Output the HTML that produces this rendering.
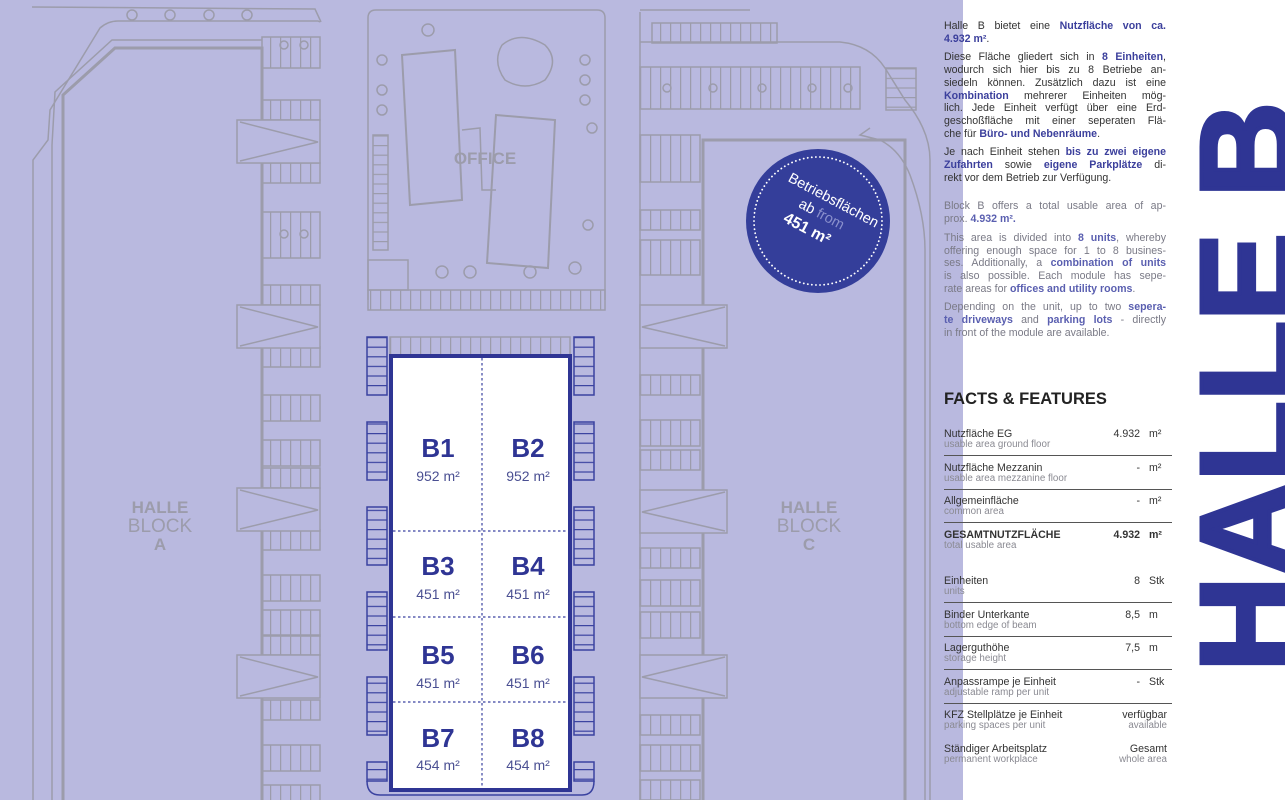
<!DOCTYPE html>
<html><head><meta charset="utf-8"><style>
*{margin:0;padding:0;box-sizing:border-box}
body{width:1285px;height:800px;overflow:hidden;background:#b9b9df;font-family:"Liberation Sans",sans-serif;position:relative}
#panel{position:absolute;left:963px;top:0;width:322px;height:800px;background:#fff}
.txt{position:absolute;left:944px;width:222px;font-size:10.6px;line-height:12.7px;color:#333}
.txt div{text-align:justify;text-align-last:justify;white-space:nowrap}
.txt div.l{text-align-last:left}
.en{color:#7a7a86}
b{color:#3b3f9c}
.en b{color:#5a5fb0}
.p{margin-bottom:6px}
#ff{position:absolute;left:944px;top:390px;font-size:16.5px;font-weight:bold;color:#222}
.row{position:absolute;left:944px;width:228px;height:34px;font-size:10.6px;color:#333}
.row .s{position:absolute;top:11px;left:0;color:#8a8a92;font-size:9.8px}
.row .v{position:absolute;right:32px;top:0}
.row .u{position:absolute;left:205px;top:0}
.row .r{position:absolute;right:5px;top:0;text-align:right}
.row .r2{position:absolute;right:5px;top:11px;color:#8a8a92;font-size:9.8px}
.line{position:absolute;left:944px;width:228px;height:1px;background:#555}
#hb{position:absolute;left:1182px;top:672px;transform-origin:0 0;transform:rotate(-90deg);font-size:133px;font-weight:bold;color:#2f3594;line-height:1;white-space:nowrap;letter-spacing:-1px;-webkit-text-stroke:4px #2f3594}
</style></head><body>
<svg width="963" height="800" style="position:absolute;left:0;top:0">
<defs>
<pattern id="vs" width="10" height="200" patternUnits="userSpaceOnUse"><line x1="0.5" y1="0" x2="0.5" y2="200" stroke="#9c9cab" stroke-width="1.5"/></pattern>
<pattern id="hs" width="200" height="9.6" patternUnits="userSpaceOnUse" y="337"><line x1="0" y1="0.5" x2="200" y2="0.5" stroke="#9c9cab" stroke-width="1.5"/></pattern>
<pattern id="bs" width="200" height="9.6" patternUnits="userSpaceOnUse" y="337"><line x1="0" y1="0.5" x2="200" y2="0.5" stroke="#3a42a0" stroke-width="1.5"/></pattern>
</defs>
<g fill="none" stroke="#9c9cab" stroke-width="1.5">
<path d="M63,800 V95 L115,48 H262 V800" stroke-width="3"/>
<path d="M52,800 V145 L55,92 L112,40 H262"/>
<path d="M33,800 V160 L48,140 L50,110 L100,28 Q108,21 118,21 H318 L320,22"/>
<path d="M32,7 L315,9 L321,22"/>
<circle cx="132" cy="15" r="5"/><circle cx="170" cy="15" r="5"/><circle cx="209" cy="15" r="5"/><circle cx="247" cy="15" r="5"/>
<circle cx="284" cy="45" r="4"/><circle cx="304" cy="45" r="4"/><circle cx="284" cy="234" r="4"/><circle cx="304" cy="234" r="4"/>
<g fill="url(#vs)">
<rect x="262" y="37" width="58" height="31"/><rect x="262" y="100" width="58" height="20"/><rect x="262" y="163" width="58" height="20"/>
<rect x="262" y="212" width="58" height="46"/><rect x="262" y="285" width="58" height="20"/><rect x="262" y="347" width="58" height="20"/>
<rect x="262" y="395" width="58" height="26"/><rect x="262" y="440" width="58" height="26"/><rect x="262" y="468" width="58" height="20"/>
<rect x="262" y="530" width="58" height="20"/><rect x="262" y="575" width="58" height="26"/><rect x="262" y="610" width="58" height="26"/>
<rect x="262" y="635" width="58" height="20"/><rect x="262" y="700" width="58" height="20"/><rect x="262" y="745" width="58" height="26"/>
<rect x="262" y="785" width="58" height="20"/>
</g>
<g fill="#b9b9df">
<rect x="237" y="120" width="83" height="43"/><path d="M240,122 L318,142 L240,161"/>
<rect x="237" y="305" width="83" height="43"/><path d="M240,307 L318,327 L240,346"/>
<rect x="237" y="488" width="83" height="43"/><path d="M240,490 L318,510 L240,529"/>
<rect x="237" y="655" width="83" height="43"/><path d="M240,657 L318,677 L240,696"/>
</g>
<path d="M368,300 V18 Q368,10 376,10 H597 Q605,10 605,18 V300"/>
<rect x="368" y="290" width="237" height="20" fill="url(#vs)"/>
<rect x="373" y="135" width="15" height="115" fill="url(#hs)"/>
<rect x="368" y="260" width="40" height="30"/>
<polygon points="402,55 455,50 462,200 410,205" stroke-width="2"/>
<polygon points="496,115 555,120 548,268 487,263" stroke-width="2"/>
<path d="M462,130 L480,128 L482,190 L496,190" />
<path d="M502,45 Q520,30 545,45 Q560,60 545,80 Q525,92 505,80 Q492,62 502,45"/>
<circle cx="428" cy="30" r="6"/><circle cx="382" cy="60" r="5"/><circle cx="382" cy="90" r="5"/><circle cx="382" cy="110" r="5"/>
<circle cx="585" cy="60" r="5"/><circle cx="585" cy="80" r="5"/><circle cx="585" cy="100" r="5"/><circle cx="592" cy="128" r="5"/>
<circle cx="442" cy="272" r="6"/><circle cx="470" cy="272" r="6"/><circle cx="530" cy="272" r="6"/><circle cx="575" cy="268" r="6"/><circle cx="588" cy="225" r="5"/>
<rect x="390" y="337" width="180" height="18" fill="url(#vs)"/>
<path d="M703,800 V140 H905 V800" stroke-width="3"/>
<path d="M925,800 V250 Q925,215 910,175 Q900,150 880,140 L860,135 L870,128"/>
<path d="M640,10 H750"/><path d="M640,800 V12"/>
<path d="M640,42 H840 Q870,45 885,68 L905,100 Q930,130 930,160 V800"/>
<rect x="652" y="23" width="125" height="20" fill="url(#vs)"/>
<rect x="640" y="67" width="220" height="42" fill="url(#vs)"/>
<circle cx="667" cy="88" r="4"/><circle cx="713" cy="88" r="4"/><circle cx="762" cy="88" r="4"/><circle cx="812" cy="88" r="4"/><circle cx="848" cy="88" r="4"/>
<rect x="886" y="68" width="30" height="42" fill="url(#hs)"/>
<g fill="url(#vs)">
<rect x="640" y="135" width="60" height="47"/><rect x="640" y="210" width="60" height="20"/><rect x="640" y="240" width="60" height="35"/>
<rect x="640" y="375" width="60" height="20"/><rect x="640" y="420" width="60" height="26"/><rect x="640" y="450" width="60" height="20"/>
<rect x="640" y="548" width="60" height="20"/><rect x="640" y="580" width="60" height="26"/><rect x="640" y="612" width="60" height="26"/>
<rect x="640" y="715" width="60" height="20"/><rect x="640" y="745" width="60" height="26"/><rect x="640" y="780" width="60" height="20"/>
</g>
<g fill="#b9b9df">
<rect x="640" y="305" width="87" height="43"/><path d="M725,307 L642,327 L725,346"/>
<rect x="640" y="490" width="87" height="43"/><path d="M725,492 L642,512 L725,531"/>
<rect x="640" y="655" width="87" height="43"/><path d="M725,657 L642,677 L725,696"/>
</g>
</g>
<text x="485" y="164" text-anchor="middle" font-size="17" font-weight="bold" fill="#9c9cab" font-family="Liberation Sans">OFFICE</text>
<g font-family="Liberation Sans" fill="#9c9cab" text-anchor="middle">
<text x="160" y="513" font-size="17" font-weight="bold">HALLE</text><text x="160" y="532" font-size="19">BLOCK</text><text x="160" y="550" font-size="17" font-weight="bold">A</text>
<text x="809" y="513" font-size="17" font-weight="bold">HALLE</text><text x="809" y="532" font-size="19">BLOCK</text><text x="809" y="550" font-size="17" font-weight="bold">C</text>
</g>
<g stroke="#3a42a0" stroke-width="1.5" fill="url(#bs)">
<rect x="367" y="337" width="20" height="58"/><rect x="367" y="422" width="20" height="58"/><rect x="367" y="507" width="20" height="58"/>
<rect x="367" y="592" width="20" height="58"/><rect x="367" y="677" width="20" height="58"/><rect x="367" y="762" width="20" height="19"/>
<rect x="574" y="337" width="20" height="58"/><rect x="574" y="422" width="20" height="58"/><rect x="574" y="507" width="20" height="58"/>
<rect x="574" y="592" width="20" height="58"/><rect x="574" y="677" width="20" height="58"/><rect x="574" y="762" width="20" height="19"/>
<path d="M367,781 Q367,795 380,795 H582 Q594,795 594,781" fill="none"/>
</g>
<rect x="391" y="356" width="179" height="434" fill="#fff" stroke="#2f3594" stroke-width="4"/>
<g stroke="#3a42a0" stroke-width="1.2" stroke-dasharray="2.5,2.5">
<line x1="482" y1="358" x2="482" y2="788"/><line x1="393" y1="531" x2="568" y2="531"/><line x1="393" y1="617" x2="568" y2="617"/><line x1="393" y1="702" x2="568" y2="702"/>
</g>
<g font-family="Liberation Sans" text-anchor="middle">
<g font-size="26" font-weight="bold" fill="#2f3594">
<text x="438" y="457">B1</text><text x="528" y="457">B2</text><text x="438" y="575">B3</text><text x="528" y="575">B4</text>
<text x="438" y="664">B5</text><text x="528" y="664">B6</text><text x="438" y="747">B7</text><text x="528" y="747">B8</text>
</g>
<g font-size="14" fill="#4a4f92">
<text x="438" y="481">952 m²</text><text x="528" y="481">952 m²</text><text x="438" y="599">451 m²</text><text x="528" y="599">451 m²</text>
<text x="438" y="688">451 m²</text><text x="528" y="688">451 m²</text><text x="438" y="770">454 m²</text><text x="528" y="770">454 m²</text>
</g>
</g>
<circle cx="818" cy="221" r="72" fill="#343e9a"/>
<circle cx="818" cy="221" r="64" fill="none" stroke="#fff" stroke-width="1.8" stroke-dasharray="0.1,4" stroke-linecap="round"/>
<g transform="rotate(28 818 221)" font-family="Liberation Sans" text-anchor="middle" fill="#fff">
<text x="822" y="200" font-size="14.5">Betriebsflächen</text>
<text x="818" y="218" font-size="14.5">ab <tspan fill="#8a90cc">from</tspan></text>
<text x="812" y="238" font-size="16" font-weight="bold">451 m²</text>
</g>
</svg>
<div id="panel"></div>
<div class="txt" style="top:20px">
<div class="p"><div>Halle B bietet eine <b>Nutzfläche von ca.</b></div><div class="l"><b>4.932 m²</b>.</div></div>
<div class="p"><div>Diese Fläche gliedert sich in <b>8 Einheiten</b>,</div><div>wodurch sich hier bis zu 8 Betriebe an-</div><div>siedeln können. Zusätzlich dazu ist eine</div><div><b>Kombination</b> mehrerer Einheiten mög-</div><div>lich. Jede Einheit verfügt über eine Erd-</div><div>geschoßfläche mit einer seperaten Flä-</div><div class="l">che für <b>Büro- und Nebenräume</b>.</div></div>
<div class="p"><div>Je nach Einheit stehen <b>bis zu zwei eigene</b></div><div><b>Zufahrten</b> sowie <b>eigene Parkplätze</b> di-</div><div class="l">rekt vor dem Betrieb zur Verfügung.</div></div>
<div class="en" style="margin-top:16px">
<div class="p"><div>Block B offers a total usable area of ap-</div><div class="l">prox. <b>4.932 m².</b></div></div>
<div class="p"><div>This area is divided into <b>8 units</b>, whereby</div><div>offering enough space for 1 to 8 busines-</div><div>ses. Additionally, a <b>combination of units</b></div><div>is also possible. Each module has sepe-</div><div class="l">rate areas for <b>offices and utility rooms</b>.</div></div>
<div class="p"><div>Depending on the unit, up to two <b>sepera-</b></div><div><b>te driveways</b> and <b>parking lots</b> - directly</div><div class="l">in front of the module are available.</div></div>
</div></div>
<div id="ff">FACTS &amp; FEATURES</div>
<div class="row" style="top:428px">Nutzfläche EG<span class="s">usable area ground floor</span><span class="v">4.932</span><span class="u">m²</span></div>
<div class="line" style="top:455px"></div>
<div class="row" style="top:462px">Nutzfläche Mezzanin<span class="s">usable area mezzanine floor</span><span class="v">-</span><span class="u">m²</span></div>
<div class="line" style="top:489px"></div>
<div class="row" style="top:495px">Allgemeinfläche<span class="s">common area</span><span class="v">-</span><span class="u">m²</span></div>
<div class="line" style="top:522px"></div>
<div class="row" style="top:529px;font-weight:bold">GESAMTNUTZFLÄCHE<span class="s" style="font-weight:normal">total usable area</span><span class="v">4.932</span><span class="u">m²</span></div>
<div class="row" style="top:575px">Einheiten<span class="s">units</span><span class="v">8</span><span class="u">Stk</span></div>
<div class="line" style="top:602px"></div>
<div class="row" style="top:609px">Binder Unterkante<span class="s">bottom edge of beam</span><span class="v">8,5</span><span class="u">m</span></div>
<div class="line" style="top:636px"></div>
<div class="row" style="top:642px">Lagerguthöhe<span class="s">storage height</span><span class="v">7,5</span><span class="u">m</span></div>
<div class="line" style="top:669px"></div>
<div class="row" style="top:676px">Anpassrampe je Einheit<span class="s">adjustable ramp per unit</span><span class="v">-</span><span class="u">Stk</span></div>
<div class="line" style="top:703px"></div>
<div class="row" style="top:709px">KFZ Stellplätze je Einheit<span class="s">parking spaces per unit</span><span class="r">verfügbar</span><span class="r2">available</span></div>
<div class="row" style="top:743px">Ständiger Arbeitsplatz<span class="s">permanent workplace</span><span class="r">Gesamt</span><span class="r2">whole area</span></div>
<div id="hb">HALLE B</div>
</body></html>
